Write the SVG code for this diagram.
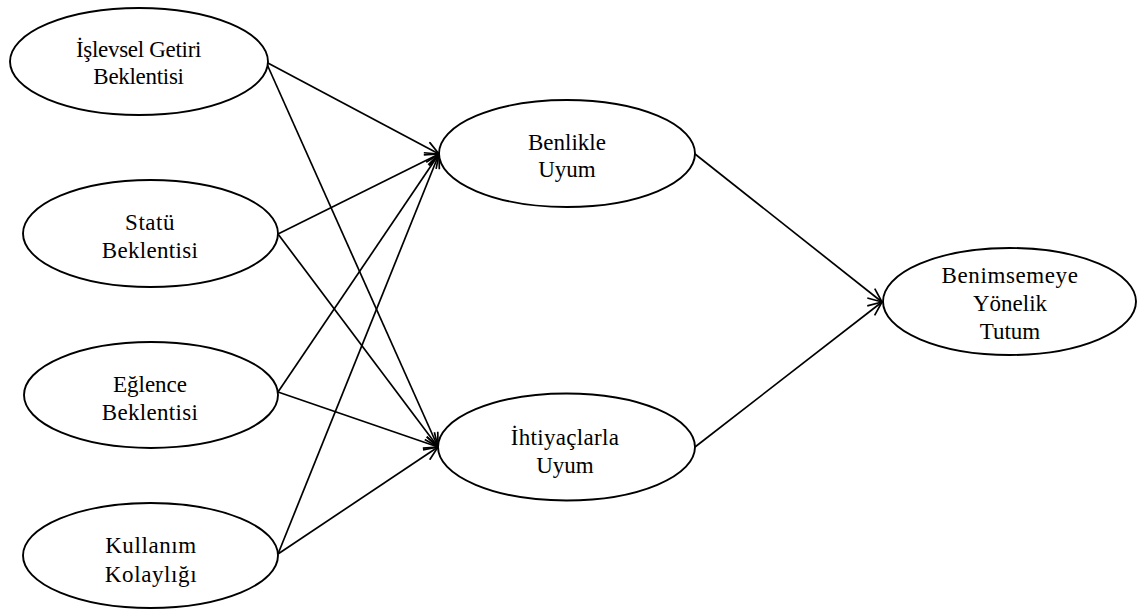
<svg xmlns="http://www.w3.org/2000/svg" width="1137" height="610" viewBox="0 0 1137 610">
  <style>
    .node ellipse { fill: #ffffff; stroke: #000000; stroke-width: 1.9; }
    .node text { font-family: "Liberation Serif", "Times New Roman", serif; font-size: 23px; fill: #000000; text-anchor: middle; }
    .edges line { stroke: #000000; stroke-width: 1.7; fill: none; marker-end: url(#open-arrow); }
  </style>
  <defs>
    <marker id="open-arrow" viewBox="0 0 16 14" refX="15" refY="7" markerWidth="16" markerHeight="14" markerUnits="userSpaceOnUse" orient="auto">
      <path d="M1,1 L15,7 L1,13" fill="none" stroke="#000000" stroke-width="1.7"/>
    </marker>
  </defs>
  <rect width="1137" height="610" fill="#ffffff"/>

  <!-- path connectors -->
  <g id="connectors" class="edges">
    <line x1="266" y1="62" x2="439" y2="154"/>
    <line x1="266" y1="62" x2="438" y2="447"/>
    <line x1="278" y1="234" x2="439" y2="154"/>
    <line x1="278" y1="234" x2="438" y2="447"/>
    <line x1="278" y1="392" x2="439" y2="154"/>
    <line x1="278" y1="392" x2="438" y2="447"/>
    <line x1="278" y1="554" x2="439" y2="154"/>
    <line x1="278" y1="554" x2="438" y2="447"/>
    <line x1="695" y1="154" x2="882" y2="302"/>
    <line x1="695" y1="447" x2="882" y2="302"/>
  </g>

  <g id="islevsel-getiri" class="node">
    <ellipse cx="139" cy="61.5" rx="129" ry="53.5"/>
    <text x="138.5" y="57" letter-spacing="-0.3">İşlevsel Getiri</text>
    <text x="138.5" y="84" letter-spacing="-0.3">Beklentisi</text>
  </g>

  <g id="statu" class="node">
    <ellipse cx="150.5" cy="233.5" rx="127.5" ry="53.5"/>
    <text x="150" y="230" letter-spacing="0.5">Statü</text>
    <text x="150" y="258" letter-spacing="0.3">Beklentisi</text>
  </g>

  <g id="eglence" class="node">
    <ellipse cx="151" cy="395" rx="127" ry="53"/>
    <text x="150" y="392">Eğlence</text>
    <text x="150" y="420" letter-spacing="0.3">Beklentisi</text>
  </g>

  <g id="kullanim" class="node">
    <ellipse cx="150.5" cy="555.5" rx="127.5" ry="52.5"/>
    <text x="151" y="553" letter-spacing="0.6">Kullanım</text>
    <text x="151" y="582" letter-spacing="0.6">Kolaylığı</text>
  </g>

  <g id="benlikle-uyum" class="node">
    <ellipse cx="567" cy="153.5" rx="128" ry="53.5"/>
    <text x="567" y="150">Benlikle</text>
    <text x="567" y="177">Uyum</text>
  </g>

  <g id="ihtiyaclarla-uyum" class="node">
    <ellipse cx="566.5" cy="447" rx="128.5" ry="53.5"/>
    <text x="565" y="445" letter-spacing="0.3">İhtiyaçlarla</text>
    <text x="565" y="473">Uyum</text>
  </g>

  <g id="benimsemeye-yonelik-tutum" class="node">
    <ellipse cx="1009.5" cy="301.5" rx="126.5" ry="53.5"/>
    <text x="1010" y="283" letter-spacing="0.6">Benimsemeye</text>
    <text x="1010" y="311">Yönelik</text>
    <text x="1010" y="339">Tutum</text>
  </g>
</svg>
